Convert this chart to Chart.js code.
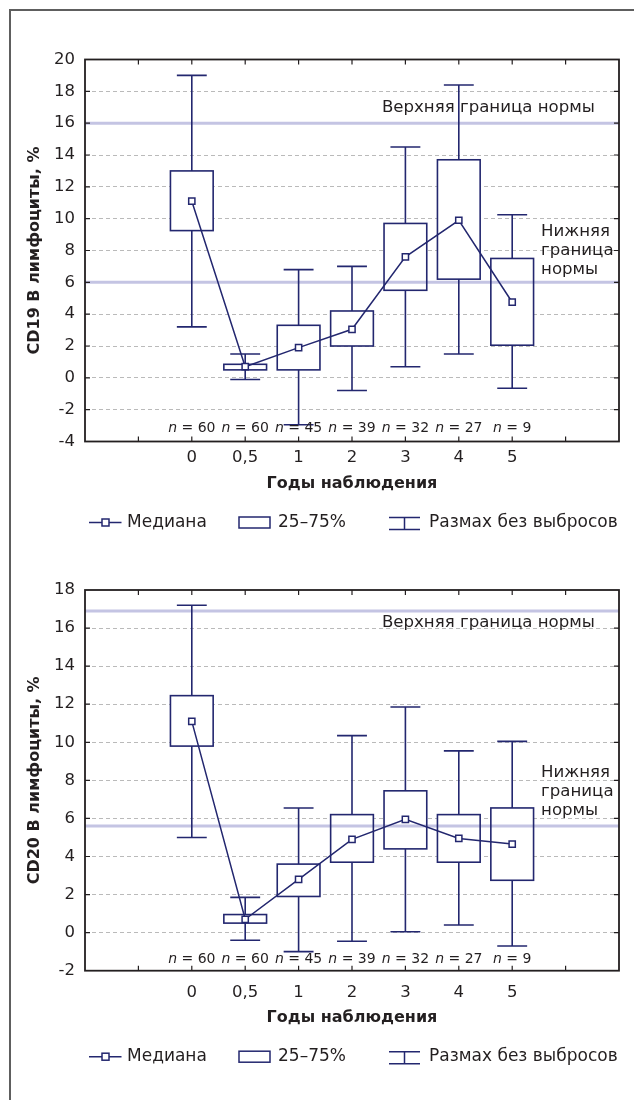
<!DOCTYPE html>
<html>
<head>
<meta charset="utf-8">
<script src="https://cdn.jsdelivr.net/npm/chart.js@4.4.1/dist/chart.umd.min.js"></script>
<style>
  html, body { margin: 0; padding: 0; background: #fff; }
  body { width: 634px; height: 1100px; position: relative; overflow: hidden; }
  .frame { position: absolute; left: 9px; top: 9px; width: 700px; height: 1200px;
           border-left: 2px solid #5e5e5e; border-top: 2px solid #5e5e5e; }
  .wrap { position: absolute; left: 0; width: 634px; height: 550px; }
</style>
</head>
<body>
<div class="frame"></div>
<div class="wrap" style="top:0"><canvas id="cd19"></canvas></div>
<div class="wrap" style="top:550px"><canvas id="cd20"></canvas></div>
<script>
// Observation years and group sizes
const years = ['0', '0,5', '1', '2', '3', '4', '5'];
const counts = [60, 60, 45, 39, 32, 27, 9];
const legendLabels = ['Медиана', '25–75%', 'Размах без выбросов'];
const normLabels = { upper: 'Верхняя граница нормы', lower: ['Нижняя', 'граница', 'нормы'] };

// CD19+ B lymphocytes, %
const cd19Min    = [3.2, -0.1, -2.95, -0.8, 0.7, 1.5, -0.65];
const cd19Q1     = [9.25, 0.5, 0.5, 2.0, 5.5, 6.2, 2.05];
const cd19Median = [11.1, 0.7, 1.9, 3.05, 7.6, 9.9, 4.75];
const cd19Q3     = [13.0, 0.85, 3.3, 4.2, 9.7, 13.7, 7.5];
const cd19Max    = [19.0, 1.5, 6.8, 7.0, 14.5, 18.4, 10.25];
const cd19Norm   = { lower: 6, upper: 16 };
const cd19Ticks  = { min: -4, max: 20, step: 2 };

// CD20+ B lymphocytes, %
const cd20Min    = [5.0, -0.4, -1.0, -0.45, 0.05, 0.4, -0.7];
const cd20Q1     = [9.8, 0.5, 1.9, 3.7, 4.4, 3.7, 2.75];
const cd20Median = [11.1, 0.7, 2.8, 4.9, 5.95, 4.95, 4.65];
const cd20Q3     = [12.45, 0.95, 3.6, 6.2, 7.45, 6.2, 6.55];
const cd20Max    = [17.2, 1.85, 6.55, 10.35, 11.85, 9.55, 10.05];
const cd20Norm   = { lower: 5.6, upper: 16.9 };
const cd20Ticks  = { min: -2, max: 18, step: 2 };

// x axis runs 0..10; the first year sits on slot 2
const CAT_OFFSET = 2;
const X_SLOTS = 10;
const BOX_WIDTH = 0.8;   // in x-axis units
const CAP_WIDTH = 0.56;

const NAVY = '#23276f';
const INK = '#231f20';
const NORM = '#c4c4e3';
const FONT = "'DejaVu Sans', sans-serif";

Chart.defaults.font.family = FONT;
Chart.defaults.color = INK;

// Box-and-whisker layer, normal-range lines, frame, labels and legend
const boxPlotPlugin = {
  id: 'boxPlot',
  beforeDatasetsDraw(chart, args, o) {
    const { ctx, chartArea: a, scales: { x, y } } = chart;
    const unit = x.getPixelForValue(1) - x.getPixelForValue(0);
    const bw = BOX_WIDTH * unit / 2, cw = CAP_WIDTH * unit / 2;
    ctx.save();
    // box fills hide the grid
    ctx.fillStyle = '#fff';
    o.q1.forEach((q1, i) => {
      const cx = x.getPixelForValue(i + CAT_OFFSET);
      const yt = y.getPixelForValue(o.q3[i]), yb = y.getPixelForValue(q1);
      ctx.fillRect(cx - bw, yt, 2 * bw, yb - yt);
    });
    // normal range lines
    ctx.strokeStyle = NORM;
    ctx.lineWidth = 3;
    [o.norm.lower, o.norm.upper].forEach(v => {
      const py = y.getPixelForValue(v);
      ctx.beginPath(); ctx.moveTo(a.left, py); ctx.lineTo(a.right, py); ctx.stroke();
    });
    // boxes and whiskers
    ctx.strokeStyle = NAVY;
    ctx.lineWidth = 1.6;
    o.q1.forEach((q1, i) => {
      const cx = x.getPixelForValue(i + CAT_OFFSET);
      const yt = y.getPixelForValue(o.q3[i]), yb = y.getPixelForValue(q1);
      const yMax = y.getPixelForValue(o.max[i]), yMin = y.getPixelForValue(o.min[i]);
      ctx.strokeRect(cx - bw, yt, 2 * bw, yb - yt);
      ctx.beginPath();
      ctx.moveTo(cx, yt); ctx.lineTo(cx, yMax);
      ctx.moveTo(cx - cw, yMax); ctx.lineTo(cx + cw, yMax);
      ctx.moveTo(cx, yb); ctx.lineTo(cx, yMin);
      ctx.moveTo(cx - cw, yMin); ctx.lineTo(cx + cw, yMin);
      ctx.stroke();
    });
    ctx.restore();
  },
  afterDraw(chart, args, o) {
    const { ctx, chartArea: a, scales: { x, y } } = chart;
    ctx.save();
    // plot frame with inward ticks
    ctx.strokeStyle = INK;
    ctx.lineWidth = 1.8;
    ctx.strokeRect(a.left, a.top, a.right - a.left, a.bottom - a.top);
    ctx.lineWidth = 1.2;
    ctx.beginPath();
    for (let v = 1; v < X_SLOTS; v++) {
      const px = x.getPixelForValue(v);
      ctx.moveTo(px, a.top); ctx.lineTo(px, a.top + 5);
      ctx.moveTo(px, a.bottom); ctx.lineTo(px, a.bottom - 5);
    }
    y.ticks.forEach(t => {
      if (t.value === y.min || t.value === y.max) return;
      const py = y.getPixelForValue(t.value);
      ctx.moveTo(a.left, py); ctx.lineTo(a.left + 5, py);
      ctx.moveTo(a.right, py); ctx.lineTo(a.right - 5, py);
    });
    ctx.stroke();

    // group sizes
    ctx.fillStyle = INK;
    ctx.textBaseline = 'middle';
    const ny = a.bottom - o.countOffset;
    counts.forEach((n, i) => {
      const cx = x.getPixelForValue(i + CAT_OFFSET);
      ctx.font = 'italic 14px ' + FONT;
      const w1 = ctx.measureText('n').width;
      ctx.font = '14px ' + FONT;
      const rest = ' = ' + n;
      const w2 = ctx.measureText(rest).width;
      const x0 = cx - (w1 + w2) / 2;
      ctx.textAlign = 'left';
      ctx.font = 'italic 14px ' + FONT;
      ctx.fillText('n', x0, ny);
      ctx.font = '14px ' + FONT;
      ctx.fillText(rest, x0 + w1, ny);
    });

    // normal range captions
    ctx.font = '16.6px ' + FONT;
    ctx.textAlign = 'left';
    ctx.fillText(normLabels.upper, x.getPixelForValue(o.upperText.x),
                 y.getPixelForValue(o.norm.upper) + o.upperText.dy);
    normLabels.lower.forEach((s, k) => {
      ctx.fillText(s, x.getPixelForValue(o.lowerText.x),
                   y.getPixelForValue(o.norm.lower) + o.lowerText.dy + k * 18.8);
    });

    // legend
    const L = a.left, cy = a.bottom + o.legendOffset;
    ctx.strokeStyle = NAVY;
    ctx.lineWidth = 1.5;
    ctx.beginPath();
    ctx.moveTo(L + 4, cy); ctx.lineTo(L + 36.5, cy);
    ctx.stroke();
    ctx.fillStyle = '#fff';
    ctx.fillRect(L + 17, cy - 3.5, 7, 7);
    ctx.strokeRect(L + 17, cy - 3.5, 7, 7);
    ctx.strokeRect(L + 154, cy - 5.5, 31, 11);
    ctx.beginPath();
    ctx.moveTo(L + 304, cy - 5); ctx.lineTo(L + 335, cy - 5);
    ctx.moveTo(L + 304, cy + 7); ctx.lineTo(L + 335, cy + 7);
    ctx.moveTo(L + 319.5, cy - 5); ctx.lineTo(L + 319.5, cy + 7);
    ctx.stroke();
    ctx.fillStyle = INK;
    ctx.font = '17px ' + FONT;
    ctx.fillText(legendLabels[0], L + 42, cy);
    ctx.fillText(legendLabels[1], L + 193, cy);
    ctx.fillText(legendLabels[2], L + 344, cy);
    ctx.restore();
  }
};

function buildChart(id, s) {
  const stats = { min: s.min, q1: s.q1, q3: s.q3, max: s.max, norm: s.norm,
                  countOffset: s.countOffset, legendOffset: s.legendOffset,
                  upperText: s.upperText, lowerText: s.lowerText };
  return new Chart(document.getElementById(id), {
    type: 'scatter',
    data: {
      datasets: [{
        label: legendLabels[0],
        data: s.median.map((v, i) => ({ x: i + CAT_OFFSET, y: v })),
        showLine: true,
        borderColor: NAVY,
        borderWidth: 1.5,
        pointStyle: 'rect',
        pointRadius: 4.4,
        pointHoverRadius: 4.4,
        pointBackgroundColor: '#fff',
        pointBorderColor: NAVY,
        pointBorderWidth: 1.5
      }]
    },
    options: {
      responsive: true,
      maintainAspectRatio: false,
      animation: false,
      devicePixelRatio: 1,
      events: [],
      layout: { padding: { left: 0, right: 15, top: s.padTop, bottom: s.padBottom } },
      plugins: {
        legend: { display: false },
        tooltip: { enabled: false },
        boxPlot: stats
      },
      scales: {
        x: {
          type: 'linear',
          min: 0,
          max: X_SLOTS,
          grid: { display: false, drawTicks: false },
          border: { display: false },
          ticks: {
            stepSize: 1,
            autoSkip: false,
            maxRotation: 0,
            padding: s.xTickPad,
            font: { size: 16.5 },
            color: INK,
            callback: v => years[v - CAT_OFFSET] ?? ''
          },
          title: {
            display: true,
            text: 'Годы наблюдения',
            color: INK,
            font: { size: 16, weight: 'bold' },
            padding: { top: 0, bottom: s.xTitlePad }
          },
          afterFit: sc => { sc.height = s.xHeight; }
        },
        y: {
          min: s.ticks.min,
          max: s.ticks.max,
          grid: {
            drawTicks: false,
            lineWidth: 1,
            color: c => (c.tick && (c.tick.value === s.ticks.min || c.tick.value === s.ticks.max))
              ? 'rgba(0,0,0,0)' : '#bababa'
          },
          border: { display: false, dash: [4, 3] },
          ticks: {
            stepSize: s.ticks.step,
            padding: 10,
            font: { size: 16.5 },
            color: INK,
            callback: v => String(v)
          },
          title: {
            display: true,
            text: s.yTitle,
            color: INK,
            font: { size: 16, weight: 'bold' },
            padding: { top: 25.4, bottom: 0 }
          },
          afterFit: sc => { sc.width = 85; }
        }
      }
    },
    plugins: [boxPlotPlugin]
  });
}

buildChart('cd19', {
  min: cd19Min, q1: cd19Q1, median: cd19Median, q3: cd19Q3, max: cd19Max,
  norm: cd19Norm, ticks: cd19Ticks, yTitle: 'CD19 В лимфоциты, %',
  padTop: 59.5, padBottom: 56.5, xHeight: 52, xTickPad: 6.5, xTitlePad: 0,
  countOffset: 13, legendOffset: 81,
  upperText: { x: 5.56, dy: -15 }, lowerText: { x: 8.54, dy: -50.3 }
});

buildChart('cd20', {
  min: cd20Min, q1: cd20Q1, median: cd20Median, q3: cd20Q3, max: cd20Max,
  norm: cd20Norm, ticks: cd20Ticks, yTitle: 'CD20 В лимфоциты, %',
  padTop: 40, padBottom: 72.3, xHeight: 57, xTickPad: 12.4, xTitlePad: 0.1,
  countOffset: 11, legendOffset: 86,
  upperText: { x: 5.56, dy: 11.7 }, lowerText: { x: 8.54, dy: -53.3 }
});
</script>
</body>
</html>
